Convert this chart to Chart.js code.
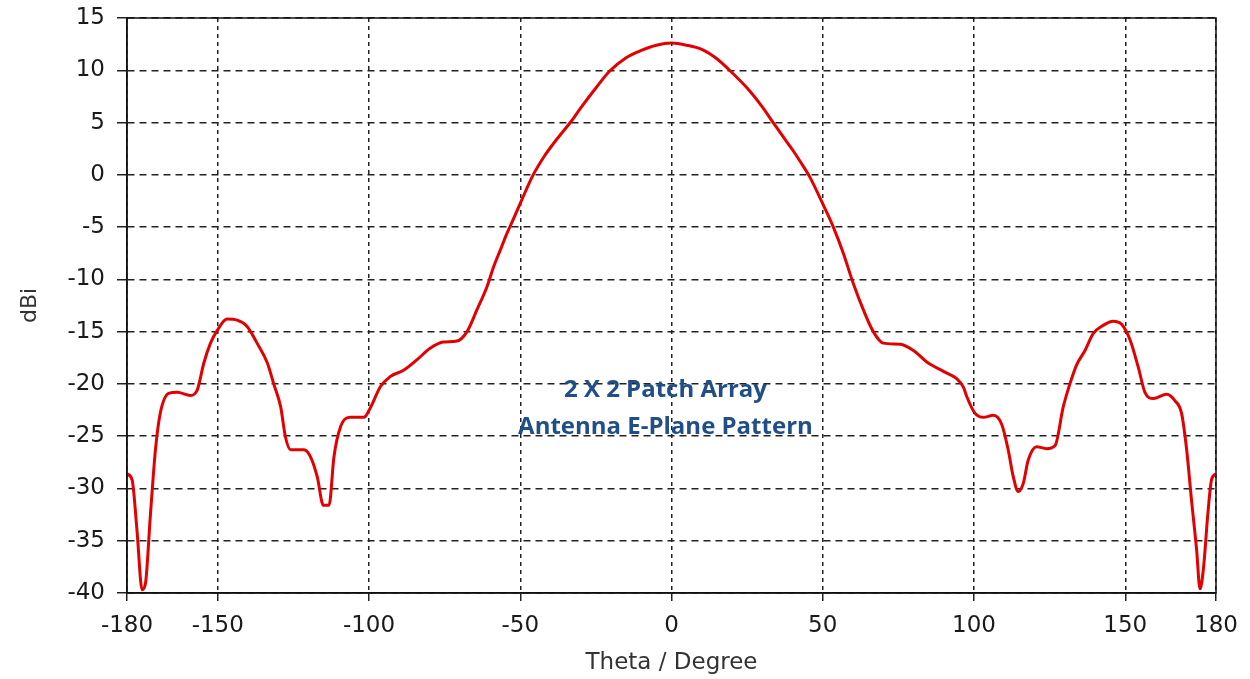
<!DOCTYPE html>
<html>
<head>
<meta charset="utf-8">
<script src="https://cdn.jsdelivr.net/npm/chart.js@4.4.1/dist/chart.umd.min.js"></script>
<style>
  html, body { margin: 0; padding: 0; background: #fff; }
  #wrap { width: 1250px; height: 679px; }
</style>
</head>
<body>
<div id="wrap"><canvas id="pattern"></canvas></div>
<script>
  // Data
  const theta = [-180, -178.3, -176.7, -175, -173.9, -172.3, -170.6, -169, -166.2, -163.4,
    -159, -156.8, -154.6, -152.4, -150.2, -146.9, -143.6, -140.3, -137, -133.6,
    -131.5, -129.2, -127.6, -125.9, -121.5, -119.3, -117.1, -115.1, -113.2, -111.6,
    -109.4, -106.1, -101.7, -99.4, -96.3, -93, -88.6, -84.2, -79.8, -75.4,
    -70.9, -67.6, -64.3, -61, -58.8, -56.6, -54.4, -52.2, -49.5, -45.9,
    -42, -39, -36, -33.2, -30, -25, -20.5, -15, -10, -5,
    0, 5, 10, 15, 19.2, 25, 30, 33.6, 37, 40,
    42.5, 45.7, 50.2, 53.5, 56.8, 60.1, 63.4, 66.7, 70, 75.6,
    80, 84.4, 89.9, 94.3, 96.5, 97.6, 100.3, 103.1, 106.4, 109.2,
    111.3, 113, 114.6, 116.3, 117.9, 120.7, 124, 126.8, 129.5, 131.7,
    133.9, 136.7, 139.4, 142.7, 146, 148.8, 151.6, 154.3, 156.5, 159.3,
    163.7, 166.4, 168.6, 170.3, 171.9, 173.6, 174.7, 175.8, 177.4, 178.5, 180];
  const gain = [-28.6, -29.2, -34.0, -39.7, -39.1, -32.7, -26.3, -22.8, -20.9, -20.8,
    -21.1, -20.6, -18.0, -16.1, -14.9, -13.8, -13.9, -14.5, -16.1, -18.0,
    -20.0, -22.2, -25.1, -26.3, -26.3, -27.0, -28.9, -31.6, -31.6, -27.0,
    -24.1, -23.2, -23.2, -22.2, -20.3, -19.3, -18.7, -17.7, -16.6, -16.0,
    -15.9, -15.0, -12.9, -10.7, -8.8, -7.2, -5.6, -4.2, -2.4, -0.1,
    1.8, 3.0, 4.1, 5.1, 6.4, 8.3, 9.9, 11.2, 11.9, 12.4,
    12.6, 12.4, 12.0, 11.1, 10, 8.3, 6.5, 5, 3.6, 2.4,
    1.3, -0.2, -2.9, -5.0, -7.5, -10.4, -12.9, -15.0, -16.1, -16.2,
    -16.8, -17.9, -18.8, -19.5, -20.3, -21.2, -22.8, -23.2, -23.0, -23.9,
    -26.3, -28.9, -30.3, -29.5, -27.3, -26.0, -26.2, -25.9, -22.2, -20.0,
    -18.2, -16.8, -15.2, -14.4, -14.0, -14.3, -15.8, -18.4, -20.8, -21.4,
    -21.0, -21.6, -22.8, -26.3, -31.1, -35.9, -39.6, -37.8, -32.1, -29.2, -28.6];
  const xTicks = [-180, -150, -100, -50, 0, 50, 100, 150, 180];
  const yTicks = [15, 10, 5, 0, -5, -10, -15, -20, -25, -30, -35, -40];
  const noteLines = ['2 X 2 Patch Array', 'Antenna E-Plane Pattern'];

  const points = theta.map((t, i) => ({ x: t, y: gain[i] }));

  // frame round the plot area + text in the middle
  const framePlugin = {
    id: 'frame',
    afterDraw(chart) {
      const { ctx, chartArea: a, scales } = chart;
      ctx.save();
      ctx.strokeStyle = '#111';
      ctx.lineWidth = 1.5;
      ctx.strokeRect(a.left, a.top, a.right - a.left, a.bottom - a.top);
      ctx.fillStyle = '#1F4E89';
      ctx.font = 'bold 24px "Open Sans"';
      ctx.textAlign = 'center';
      ctx.textBaseline = 'middle';
      const cx = scales.x.getPixelForValue(-2);
      ctx.fillText(noteLines[0], cx, scales.y.getPixelForValue(-20.6));
      ctx.fillText(noteLines[1], cx, scales.y.getPixelForValue(-24.1));
      ctx.restore();
    }
  };

  const ctx = document.getElementById('pattern').getContext('2d');
  new Chart(ctx, {
    type: 'scatter',
    data: {
      datasets: [{
        data: points,
        showLine: true,
        borderColor: '#e20000',
        borderWidth: 3,
        pointRadius: 0,
        cubicInterpolationMode: 'monotone',
        fill: false
      }]
    },
    options: {
      responsive: true,
      maintainAspectRatio: false,
      animation: false,
      layout: { padding: { left: 0, right: 34, top: 18, bottom: 0 } },
      plugins: { legend: { display: false }, tooltip: { enabled: false } },
      scales: {
        x: {
          type: 'linear',
          min: -180,
          max: 180,
          afterBuildTicks: s => { s.ticks = xTicks.map(v => ({ value: v })); },
          afterFit: s => { s.height = 86; },
          ticks: { color: '#1a1a1a', font: { family: 'DejaVu Sans', size: 23 }, padding: 11, maxRotation: 0 },
          grid: { color: '#222', lineWidth: 1.5, tickLength: 8, tickColor: '#222', tickWidth: 1.5 },
          border: { display: true, color: '#111', width: 1.5, dash: [4, 4] },
          title: { display: true, text: 'Theta / Degree', color: '#333', font: { family: 'DejaVu Sans', size: 23 }, padding: { top: 0, bottom: 2 } }
        },
        y: {
          min: -40,
          max: 15,
          afterBuildTicks: s => { s.ticks = yTicks.map(v => ({ value: v })); },
          afterFit: s => { s.width = 127; s.paddingTop = 0; s.paddingBottom = 0; },
          ticks: { color: '#1a1a1a', font: { family: 'DejaVu Sans', size: 23 }, padding: 12 },
          grid: { color: '#222', lineWidth: 1.5, tickLength: 10, tickColor: '#222', tickWidth: 1.5 },
          border: { display: true, color: '#111', width: 1.5, dash: [7, 5] },
          title: { display: true, text: 'dBi', color: '#333', font: { family: 'DejaVu Sans', size: 22 }, padding: { top: 17, bottom: 0 } }
        }
      }
    },
    plugins: [framePlugin]
  });
</script>
</body>
</html>
